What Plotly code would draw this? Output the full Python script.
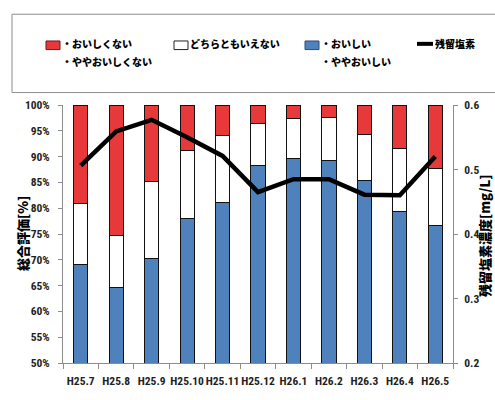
import plotly.graph_objects as go

# Monthly survey results (share of respondents, %) and residual chlorine (mg/L)
months = ["H25.7", "H25.8", "H25.9", "H25.10", "H25.11", "H25.12",
          "H26.1", "H26.2", "H26.3", "H26.4", "H26.5"]
good = [69.0, 64.6, 70.2, 78.1, 81.2, 88.2, 89.6, 89.2, 85.3, 79.3, 76.7]
neutral = [11.9, 10.2, 14.9, 13.0, 12.9, 8.2, 7.7, 8.3, 8.9, 12.3, 11.0]
bad = [19.1, 25.2, 14.9, 8.9, 5.9, 3.6, 2.7, 2.5, 5.8, 8.4, 12.3]
chlorine = [0.506, 0.559, 0.577, 0.550, 0.521, 0.465, 0.485, 0.485, 0.461, 0.460, 0.520]

RED = "#E8393A"
BLUE = "#4F81BD"
AXIS_GRAY = "#8c8c8c"
TEXT = "#1e1e1e"
JP = "Noto Sans CJK JP"
NARROW = "Liberation Sans Narrow, Arial Narrow, Roboto Condensed, sans-serif"

W, H = 495, 400
L, R, T, B = 63, 453, 105, 375


def xp(px):
    return (px - L) / (R - L)


def yp(py):
    return (B - py) / (B - T)


bar_line = dict(color="#111111", width=1)

fig = go.Figure()
fig.add_trace(go.Bar(x=months, y=good, name="・おいしい<br>・ややおいしい",
                     marker=dict(color=BLUE, line=bar_line), width=0.4))
fig.add_trace(go.Bar(x=months, y=neutral, name="どちらともいえない",
                     marker=dict(color="white", line=bar_line), width=0.4))
fig.add_trace(go.Bar(x=months, y=bad, name="・おいしくない<br>・ややおいしくない",
                     marker=dict(color=RED, line=bar_line), width=0.4))
fig.add_trace(go.Scatter(x=months, y=chlorine, name="残留塩素", yaxis="y2",
                         mode="lines", line=dict(color="black", width=4.5)))

shapes = []
annotations = []

# legend frame
shapes.append(dict(type="rect", xref="paper", yref="paper",
                   x0=xp(12), x1=xp(510), y0=yp(92), y1=yp(10),
                   line=dict(color=AXIS_GRAY, width=1), fillcolor="rgba(0,0,0,0)"))

legend_font = dict(family=JP, size=10, color="black", weight=900)

legend_items = [
    (46, RED, "#6b1a1a", ["・おいしくない", "・ややおいしくない"]),
    (174, "white", "#222222", ["どちらともいえない"]),
    (305, BLUE, "#2c4d75", ["・おいしい", "・ややおいしい"]),
]
for x0, fill, edge, lines in legend_items:
    shapes.append(dict(type="rect", xref="paper", yref="paper",
                       x0=xp(x0), x1=xp(x0 + 14), y0=yp(47), y1=yp(38),
                       line=dict(color=edge, width=1), fillcolor=fill))
    for i, txt in enumerate(lines):
        annotations.append(dict(xref="paper", yref="paper", x=xp(x0 + 14), y=yp(41 + 18 * i),
                                xanchor="left", yanchor="middle", showarrow=False, text=txt,
                                font=legend_font))

shapes.append(dict(type="line", xref="paper", yref="paper",
                   x0=xp(417), x1=xp(433), y0=yp(41), y1=yp(41),
                   line=dict(color="black", width=4)))
annotations.append(dict(xref="paper", yref="paper", x=xp(433), y=yp(41),
                        xanchor="left", yanchor="middle", showarrow=False, text="残留塩素",
                        font=legend_font))

# axis titles
annotations.append(dict(xref="paper", yref="paper", x=xp(22), y=yp(240),
                        xanchor="center", yanchor="middle", showarrow=False,
                        text="総合評価[%]", textangle=-90,
                        font=dict(family=JP, size=13, color="black", weight=900)))
annotations.append(dict(xref="paper", yref="paper", x=xp(485), y=yp(242),
                        xanchor="center", yanchor="middle", showarrow=False,
                        text="残留塩素濃度[mg/L]", textangle=-90,
                        font=dict(family=JP, size=13, color="black", weight=900)))

tick_font = dict(family=NARROW, size=11.5, color=TEXT, weight="bold")

fig.update_layout(
    width=W, height=H,
    margin=dict(l=L, r=W - R, t=T, b=H - B, pad=0),
    paper_bgcolor="white", plot_bgcolor="white",
    barmode="stack", showlegend=False,
    shapes=shapes, annotations=annotations,
    xaxis=dict(type="category", showline=True, linecolor=AXIS_GRAY, linewidth=1,
               ticks="outside", tickson="boundaries", ticklen=5, tickcolor=AXIS_GRAY,
               tickangle=0, ticklabelstandoff=7, showgrid=False, tickfont=tick_font),
    yaxis=dict(range=[50, 100], dtick=5, ticksuffix="%", showline=True,
               linecolor=AXIS_GRAY, linewidth=1, ticks="outside", ticklen=4,
               tickcolor=AXIS_GRAY, ticklabelstandoff=6, showgrid=False, zeroline=False,
               tickfont=tick_font),
    yaxis2=dict(range=[0.2, 0.6], dtick=0.1, tickformat=".1f", overlaying="y", side="right",
                showline=True, linecolor=AXIS_GRAY, linewidth=1, ticks="outside", ticklen=4,
                tickcolor=AXIS_GRAY, ticklabelstandoff=4, showgrid=False, zeroline=False,
                tickfont=tick_font),
)

fig.write_html("out.html")
